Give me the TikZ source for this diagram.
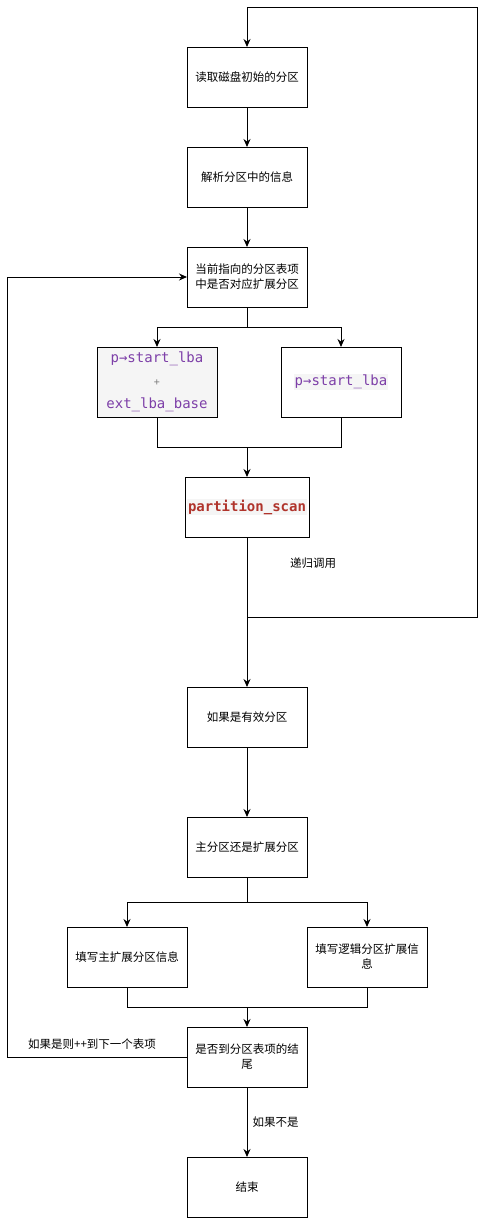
\documentclass[tikz,border=0pt]{standalone}
\usepackage{fontspec}
\setmainfont{Noto Sans CJK SC}
\setmonofont{DejaVu Sans Mono}
\usetikzlibrary{positioning,arrows.meta}
\definecolor{codepurple}{HTML}{7D3FA8}
\definecolor{codered}{HTML}{B0342C}
\definecolor{codegray}{HTML}{F5F5F5}
\newcommand{\codebg}[1]{{\setlength{\fboxsep}{1pt}\colorbox{codegray}{#1}}}

\begin{document}
\begin{tikzpicture}[x=1pt,y=-1pt,line width=1pt,>={Stealth[length=8pt,width=7pt]},
  box/.style={rectangle,draw,minimum width=120pt,minimum height=60pt,align=center,
    inner sep=2pt,outer sep=0pt,font=\fontsize{11.5}{15}\selectfont},
  code/.style={minimum height=70pt,font=\ttfamily\fontsize{14}{23}\selectfont},
  lbl/.style={font=\fontsize{11.5}{14}\selectfont,inner sep=0pt}]
\useasboundingbox (0,0) rectangle (486,1218);
\node[box] (read) at (247,77) {读取磁盘初始的分区};
\node[box] (parse) [below=40pt of read] {解析分区中的信息};
\node[box] (cur) [below=40pt of parse] {当前指向的分区表项\\中是否对应扩展分区};
\node[box,code,fill=codegray] (lbaext) at (157,382)
  {\color{codepurple}p→start\_lba\\{\color{gray}\fontsize{10}{23}\selectfont +}\\\color{codepurple}ext\_lba\_base};
\node[box,code] (lba) at (341,382) {\codebg{\color{codepurple}p→start\_lba}};
\node[box] (scan) at (247,507) {\codebg{\ttfamily\fontsize{14}{18}\selectfont\bfseries\color{codered}partition\_scan}};
\node[lbl] (reclbl) at (313,563) {递归调用};
\node[box] (valid) at (247,717) {如果是有效分区};
\node[box] (kind) [below=70pt of valid] {主分区还是扩展分区};
\node[box] (fillmain) at (127,957) {填写主扩展分区信息};
\node[box] (filllog) at (367,957) {填写逻辑分区扩展信\\息};
\node[box] (isend) at (247,1057) {是否到分区表项的结\\尾};
\node[box] (fin) [below=70pt of isend] {结束};
\node[lbl] (looplbl) at (92,1044) {如果是则++到下一个表项};

\coordinate (split1) at (247,327);
\coordinate (join1) at (247,447);
\coordinate (rec) at (247,617);
\coordinate (recr) at (477,617);
\coordinate (rect) at (477,7);
\coordinate (split2) at (247,902);
\coordinate (join2) at (247,1007);
\coordinate (lpb) at (7,1057);
\coordinate (lpt) at (lpb |- cur);

\draw[->] (read) -- (parse);
\draw[->] (parse) -- (cur);
\draw (cur) -- (split1);
\draw[->] (split1) -| (lbaext);
\draw[->] (split1) -| (lba);
\draw (lbaext) |- (join1);
\draw (lba) |- (join1);
\draw[->] (join1) -- (scan);
\draw[->] (scan) -- (valid);
% recursion back to the start
\draw[->] (rec) -- (recr) -- (rect) -| (read);
\draw[->] (valid) -- (kind);
\draw (kind) -- (split2);
\draw[->] (split2) -| (fillmain);
\draw[->] (split2) -| (filllog);
\draw (fillmain) |- (join2);
\draw (filllog) |- (join2);
\draw[->] (join2) -- (isend);
% next table entry
\draw[->] (isend) -- (lpb) -- (lpt) -- (cur);
\draw[->] (isend) -- node[right=5pt,lbl] {如果不是} (fin);
\end{tikzpicture}
\end{document}
